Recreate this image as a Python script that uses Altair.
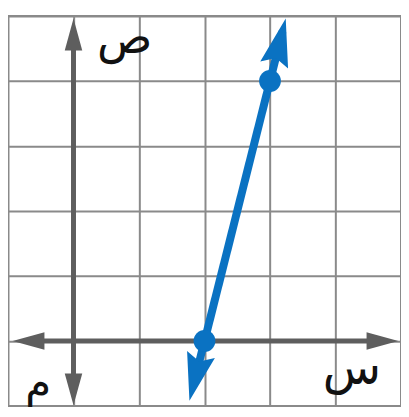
import altair as alt
import pandas as pd

# grid / domain
grid_vals = [-1, 0, 1, 2, 3, 4, 5]

# plotted points on the line
pt_x = [2, 3]
pt_y = [0, 4]

# blue line body (ends just before arrow tips)
line_x = [1.83, 3.19]
line_y = [-0.68, 4.76]

# blue arrow tips and rotation
barrow_x = [3.24, 1.77]
barrow_y = [4.96, -0.92]
barrow_angle = [14, 194]

# axis lines
xaxis_x = [-0.75, 4.75]
xaxis_y = [0, 0]
yaxis_x = [0, 0]
yaxis_y = [-0.8, 4.75]

# axis arrow tips
aarrow_x = [-0.93, 4.96, 0, 0]
aarrow_y = [0, 0, 4.96, -0.99]
aarrow_angle = [270, 90, 0, 180]

# labels
lab_text = ["ص", "س", "م"]
lab_x = [0.78, 4.25, -0.54]
lab_y = [4.64, -0.45, -0.66]
lab_size = [46, 48, 42]

xs = alt.Scale(domain=[-1, 5], nice=False, zero=False)
ys = alt.Scale(domain=[-1, 5], nice=False, zero=False)
gax = dict(values=grid_vals, grid=True, labels=False, ticks=False, domain=False,
           title=None, gridColor="#8a8a8a", gridWidth=2, gridOpacity=1)

base_grid = alt.Chart(pd.DataFrame({"x": [0], "y": [0]})).mark_point(opacity=0).encode(
    x=alt.X("x:Q", scale=xs, axis=alt.Axis(**gax)),
    y=alt.Y("y:Q", scale=ys, axis=alt.Axis(**gax)),
)

gray = "#5e5e5e"
blue = "#0a72c2"

xaxis = alt.Chart(pd.DataFrame({"x": xaxis_x, "y": xaxis_y})).mark_line(
    color=gray, strokeWidth=5).encode(x=alt.X("x:Q", scale=xs), y=alt.Y("y:Q", scale=ys))
yaxis = alt.Chart(pd.DataFrame({"x": yaxis_x, "y": yaxis_y})).mark_line(
    color=gray, strokeWidth=5).encode(x=alt.X("x:Q", scale=xs), y=alt.Y("y:Q", scale=ys))

aarrows = alt.Chart(pd.DataFrame({"x": aarrow_x, "y": aarrow_y, "a": aarrow_angle})).mark_point(
    shape="M0,0L0.55,2L-0.55,2Z", filled=True, fill=gray, opacity=1, size=1024
).encode(x=alt.X("x:Q", scale=xs), y=alt.Y("y:Q", scale=ys),
         angle=alt.Angle("a:Q", scale=None))

bline = alt.Chart(pd.DataFrame({"x": line_x, "y": line_y})).mark_line(
    color=blue, strokeWidth=8).encode(x=alt.X("x:Q", scale=xs), y=alt.Y("y:Q", scale=ys))

barrows = alt.Chart(pd.DataFrame({"x": barrow_x, "y": barrow_y, "a": barrow_angle})).mark_point(
    shape="M0,0L0.6,2L0,1.7L-0.6,2Z", filled=True, fill=blue, opacity=1, size=2304
).encode(x=alt.X("x:Q", scale=xs), y=alt.Y("y:Q", scale=ys),
         angle=alt.Angle("a:Q", scale=None))

pts = alt.Chart(pd.DataFrame({"x": pt_x, "y": pt_y})).mark_circle(
    color=blue, opacity=1, size=480).encode(x=alt.X("x:Q", scale=xs), y=alt.Y("y:Q", scale=ys))

labels = alt.Chart(pd.DataFrame({"x": lab_x, "y": lab_y, "t": lab_text, "s": lab_size})).mark_text(
    font="DejaVu Sans", color="#111111", align="center", baseline="middle"
).encode(x=alt.X("x:Q", scale=xs), y=alt.Y("y:Q", scale=ys), text="t:N",
         size=alt.Size("s:Q", scale=None, legend=None))

chart = alt.layer(base_grid, xaxis, yaxis, aarrows, bline, barrows, pts, labels).properties(
    width=395, height=392, autosize="none",
    padding={"left": 0, "top": 7, "right": 0, "bottom": 0},
).configure_view(stroke="#8a8a8a", strokeWidth=2)

chart.save("out.html", embed_options={"renderer": "svg", "actions": False})
